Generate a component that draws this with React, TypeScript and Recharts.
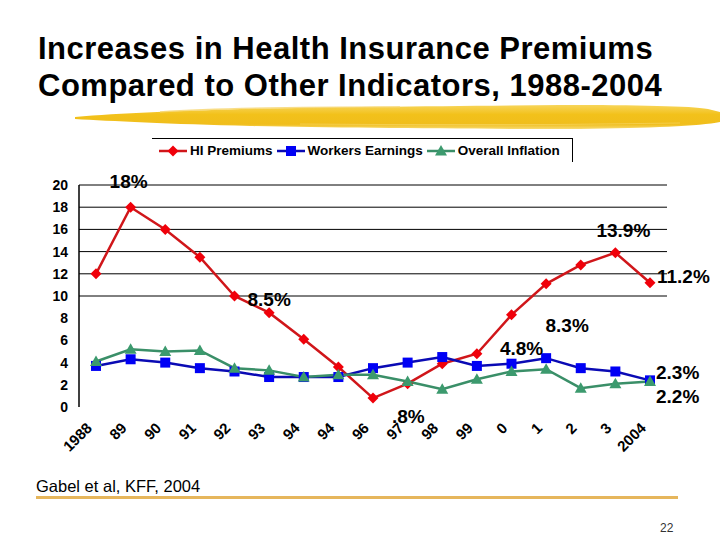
import React from 'react';
import { LineChart, Line, XAxis, YAxis, CartesianGrid, LabelList } from 'recharts';

const years = ['1988', '1989', '1990', '1991', '1992', '1993', '1994', '1995', '1996', '1997', '1998', '1999', '2000', '2001', '2002', '2003', '2004'];
const yearLabels = ['1988', '89', '90', '91', '92', '93', '94', '94', '96', '97', '98', '99', '0', '1', '2', '3', '2004'];
const hiPremiums = [12, 18, 16, 13.5, 10, 8.5, 6.1, 3.6, 0.8, 2.1, 3.9, 4.8, 8.3, 11.1, 12.8, 13.9, 11.2];
const workersEarnings = [3.7, 4.3, 4.0, 3.5, 3.2, 2.7, 2.7, 2.7, 3.5, 4.0, 4.5, 3.7, 3.9, 4.4, 3.5, 3.2, 2.4];
const overallInflation = [4.1, 5.2, 5.0, 5.1, 3.5, 3.3, 2.7, 2.9, 2.9, 2.3, 1.6, 2.5, 3.2, 3.4, 1.7, 2.1, 2.3];
const yTicks = [0, 2, 4, 6, 8, 10, 12, 14, 16, 18, 20];
const gridValues = [10, 12, 14, 16, 18, 20];

// callout text attached to a point of a series
const callouts = [
  { series: 'hi', index: 1, text: '18%' },
  { series: 'hi', index: 5, text: '8.5%' },
  { series: 'hi', index: 8, text: '.8%' },
  { series: 'hi', index: 11, text: '4.8%' },
  { series: 'hi', index: 12, text: '8.3%' },
  { series: 'hi', index: 15, text: '13.9%' },
  { series: 'hi', index: 16, text: '11.2%' },
  { series: 'we', index: 16, text: '2.3%' },
  { series: 'oi', index: 16, text: '2.2%' },
];

// where each callout sits relative to its point
const calloutPlacement: Record<string, { dx: number; dy: number; anchor: 'start' | 'middle' }> = {
  '18%': { dx: -2, dy: -19, anchor: 'middle' },
  '8.5%': { dx: 0, dy: -7, anchor: 'middle' },
  '.8%': { dx: 19, dy: 25, anchor: 'start' },
  '4.8%': { dx: 23, dy: 1, anchor: 'start' },
  '8.3%': { dx: 34, dy: 17, anchor: 'start' },
  '13.9%': { dx: 8, dy: -16, anchor: 'middle' },
  '11.2%': { dx: 7, dy: 0, anchor: 'start' },
  '2.3%': { dx: 6, dy: -1, anchor: 'start' },
  '2.2%': { dx: 6, dy: 22, anchor: 'start' },
};

const data = years.map((y, i) => ({
  year: y,
  hi: hiPremiums[i],
  we: workersEarnings[i],
  oi: overallInflation[i],
}));

const FONT = '"Liberation Sans", Arial, Helvetica, sans-serif';

const series = [
  { key: 'hi', name: 'HI Premiums', line: '#D0161A', marker: '#F0000A', shape: 'diamond' },
  { key: 'we', name: 'Workers Earnings', line: '#0A0AB4', marker: '#0000F5', shape: 'square' },
  { key: 'oi', name: 'Overall Inflation', line: '#3A8F68', marker: '#3C9A6E', shape: 'triangle' },
];

const Marker = ({ cx, cy, shape, color }: { cx: number; cy: number; shape: string; color: string }) => {
  if (cx == null || cy == null) return null;
  if (shape === 'diamond') {
    return <polygon points={`${cx},${cy - 5.5} ${cx + 5.5},${cy} ${cx},${cy + 5.5} ${cx - 5.5},${cy}`} fill={color} />;
  }
  if (shape === 'square') {
    return <rect x={cx - 5} y={cy - 5} width={10} height={10} fill={color} />;
  }
  return <polygon points={`${cx},${cy - 6} ${cx + 6},${cy + 4.5} ${cx - 6},${cy + 4.5}`} fill={color} />;
};

const XTick = (props: any) => {
  const { x, index } = props;
  const ax = x - 3;
  const ay = 429;
  return (
    <text
      x={ax}
      y={ay}
      transform={`rotate(-45 ${ax} ${ay})`}
      textAnchor="end"
      fontFamily={FONT}
      fontWeight={700}
      fontSize={15}
      fill="#000"
    >
      {yearLabels[index]}
    </text>
  );
};

const makeCallout = (key: string) => (props: any) => {
  const { x, y, index } = props;
  const c = callouts.find(a => a.series === key && a.index === index);
  if (!c) return null;
  const p = calloutPlacement[c.text];
  return (
    <text
      key={`${key}-${index}`}
      x={x + p.dx}
      y={y + p.dy}
      textAnchor={p.anchor}
      fontFamily={FONT}
      fontWeight={700}
      fontSize={19}
      fill="#000"
    >
      {c.text}
    </text>
  );
};

const LegendBox = () => (
  <div style={{
    position: 'absolute', left: 152, top: 138, width: 421, height: 24,
    borderTop: '1.5px solid #000', borderRight: '1.5px solid #000',
    display: 'flex', alignItems: 'center', paddingLeft: 7, boxSizing: 'border-box',
    fontFamily: FONT, fontWeight: 700, fontSize: 13.5, color: '#000', whiteSpace: 'nowrap',
  }}>
    {series.map(s => (
      <span key={s.key} style={{ display: 'flex', alignItems: 'center', marginRight: 4 }}>
        <svg width={28} height={12} style={{ marginRight: 3 }}>
          <line x1={0} y1={6} x2={28} y2={6} stroke={s.line} strokeWidth={2.5} />
          <Marker cx={14} cy={6} shape={s.shape} color={s.marker} />
        </svg>
        {s.name}
      </span>
    ))}
  </div>
);

const Brush = () => (
  <svg width={720} height={40} style={{ position: 'absolute', left: 0, top: 98 }}>
    <defs>
      <linearGradient id="brushGrad" x1="0" y1="0" x2="0" y2="1">
        <stop offset="0" stopColor="#F7D55A" />
        <stop offset="0.4" stopColor="#F2C11A" />
        <stop offset="0.8" stopColor="#F0BE1C" />
        <stop offset="1" stopColor="#F8DA70" />
      </linearGradient>
    </defs>
    <path
      d="M75,19 C120,15 180,13 240,11 C330,9 450,8 560,7 C640,7 690,8 708,11 L720,14 L720,24 C700,28 650,30 580,31 C460,31 340,30 250,28 C170,26 110,23 75,21 Z"
      fill="url(#brushGrad)"
    />
    <path d="M160,14 C220,10 300,9 400,9" stroke="#F6D56A" strokeWidth={1.5} fill="none" opacity={0.8} />
    <path d="M300,26 C420,27 560,27 680,25" stroke="#F7D768" strokeWidth={1.2} fill="none" opacity={0.6} />
  </svg>
);

export default function App() {
  return (
    <div style={{ position: 'absolute', left: 0, top: 0, width: 720, height: 540, background: '#fff', overflow: 'hidden' }}>
      <div style={{
        position: 'absolute', left: 38, top: 30, fontFamily: FONT, fontWeight: 700,
        fontSize: 31, lineHeight: '37px', letterSpacing: 0.5, color: '#000', whiteSpace: 'nowrap',
      }}>
        Increases in Health Insurance Premiums<br />
        Compared to Other Indicators, 1988-2004
      </div>
      <Brush />
      <LegendBox />
      <div style={{ position: 'absolute', left: 0, top: 0 }}>
        <LineChart
          width={720}
          height={540}
          data={data}
          margin={{ top: 185, right: 53, bottom: 83, left: 34 }}
        >
          <CartesianGrid
            horizontal
            vertical={false}
            stroke="#000"
            strokeWidth={1}
            horizontalValues={gridValues}
          />
          <XAxis
            dataKey="year"
            type="category"
            interval={0}
            height={50}
            padding={{ left: 17, right: 17 }}
            axisLine={false}
            tickLine={false}
            tick={<XTick />}
          />
          <YAxis
            domain={[0, 20]}
            ticks={yTicks}
            interval={0}
            width={45}
            tickLine={false}
            tickSize={9}
            axisLine={{ stroke: '#000', strokeWidth: 1.5 }}
            tick={{ fontFamily: FONT, fontWeight: 700, fontSize: 14, fill: '#000' }}
          />
          <YAxis
            yAxisId="right"
            orientation="right"
            width={0}
            domain={[0, 20]}
            tick={false}
            tickLine={false}
            axisLine={{ stroke: '#000', strokeWidth: 1.5 }}
          />
          {series.map(s => (
            <Line
              key={s.key}
              dataKey={s.key}
              name={s.name}
              stroke={s.line}
              strokeWidth={2.5}
              isAnimationActive={false}
              dot={(p: any) => <Marker key={`${s.key}-${p.index}`} cx={p.cx} cy={p.cy} shape={s.shape} color={s.marker} />}
              activeDot={false}
            >
              <LabelList dataKey={s.key} content={makeCallout(s.key)} />
            </Line>
          ))}
        </LineChart>
      </div>
      <div style={{ position: 'absolute', left: 36, top: 477, fontFamily: FONT, fontSize: 16.5, color: '#000' }}>
        Gabel et al, KFF, 2004
      </div>
      <div style={{ position: 'absolute', left: 36, top: 496, width: 642, height: 3, background: '#E6B65C' }} />
      <div style={{ position: 'absolute', left: 660, top: 521, fontFamily: FONT, fontSize: 12, color: '#333' }}>
        22
      </div>
    </div>
  );
}
